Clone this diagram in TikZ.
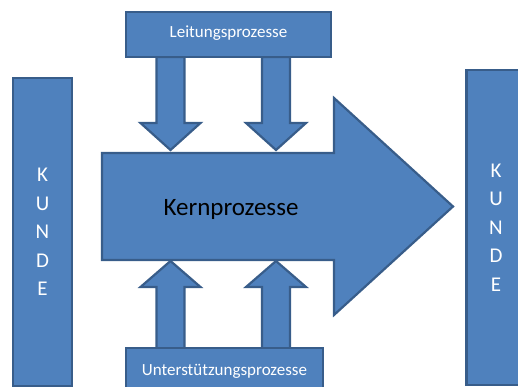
\documentclass[tikz,border=0pt]{standalone}
\usepackage{fontspec}
\setmainfont{Carlito}
\usetikzlibrary{positioning}
\definecolor{officeblue}{HTML}{4F81BD}
\definecolor{officeedge}{HTML}{385D8A}

\begin{document}
\begin{tikzpicture}[x=1pt,y=-1pt,
  blk/.style={fill=officeblue, draw=officeedge, line width=2.2pt},
  procbox/.style={blk, inner sep=0pt, text=white, font=\fontsize{17}{20}\selectfont,
    text height=0.9em, text depth=0.25em},
  kundebar/.style={blk, inner sep=0pt, minimum width=59pt, text=white, align=center,
    font=\fontsize{21}{28.5}\selectfont}]
\useasboundingbox (0,0) rectangle (518,387);
\clip (0,0) rectangle (518,387);
% customer bars
\node[kundebar, minimum height=308pt] (kundeL) at (42.5,232) {K\\U\\N\\D\\E};
\node[kundebar, minimum height=315pt] (kundeR) at (496,227.5) {K\\U\\N\\D\\E};
% main process arrow
\draw[blk] (102,153) -- (334,153) -- (334,98) -- (453,206.5) -- (334,315) -- (334,260) -- (102,260) -- cycle;
\node[font=\fontsize{25}{30}\selectfont, anchor=base] (kern) at (231,215) {Kernprozesse};
% block arrows
\foreach \cx in {170.5,276}{
  \draw[blk] (\cx-14,57) -- (\cx-14,123) -- (\cx-30,123) -- (\cx,150) -- (\cx+30,123) -- (\cx+14,123) -- (\cx+14,57) -- cycle;
  \draw[blk] (\cx-14,349) -- (\cx-14,287) -- (\cx-30,287) -- (\cx,261) -- (\cx+30,287) -- (\cx+14,287) -- (\cx+14,349) -- cycle;
}
% management and support
\node[procbox, minimum width=205pt, minimum height=45pt] (leitung) at (228.5,34.5) {Leitungsprozesse};
\node[procbox, minimum width=197pt, minimum height=48pt] (unterst) at (224.5,372) {Unterstützungsprozesse};
\end{tikzpicture}
\end{document}
